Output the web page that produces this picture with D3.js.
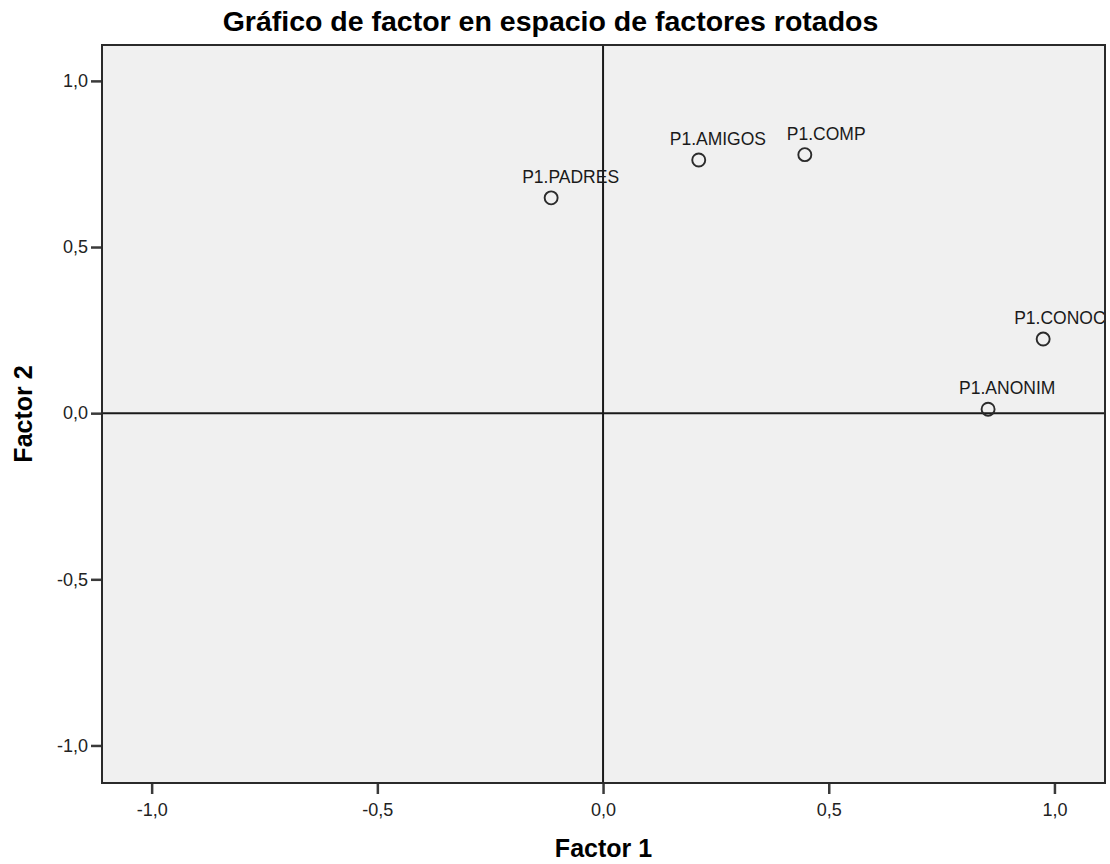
<!DOCTYPE html>
<html>
<head>
<meta charset="utf-8">
<script src="https://cdn.jsdelivr.net/npm/d3@7/dist/d3.min.js"></script>
<style>
  html, body { margin: 0; padding: 0; background: #ffffff; }
  svg { display: block; font-family: "Liberation Sans", Arial, sans-serif; }
</style>
</head>
<body>
<svg id="chart" width="1110" height="864"></svg>
<script>
// ---- data ----
const variables = ["P1.PADRES", "P1.AMIGOS", "P1.COMP", "P1.CONOC", "P1.ANONIM"];
const factor1 = [-0.115, 0.212, 0.447, 0.975, 0.853];
const factor2 = [0.648, 0.762, 0.778, 0.223, 0.012];
const xTicks = [-1.0, -0.5, 0.0, 0.5, 1.0];
const yTicks = [-1.0, -0.5, 0.0, 0.5, 1.0];
const chartTitle = "Gráfico de factor en espacio de factores rotados";
const xTitle = "Factor 1";
const yTitle = "Factor 2";

// ---- layout ----
const W = 1110, H = 864;
const plot = { left: 102, right: 1105, top: 45, bottom: 783 };
const svg = d3.select("#chart");

const x = d3.scaleLinear().domain([-1.11, 1.112]).range([plot.left, plot.right]);
const y = d3.scaleLinear().domain([-1.113, 1.108]).range([plot.bottom, plot.top]);

const fmt = v => d3.format(".1f")(v).replace(".", ",").replace("−", "-");

svg.append("defs").append("clipPath").attr("id", "plotClip")
  .append("rect")
  .attr("x", plot.left).attr("y", plot.top)
  .attr("width", plot.right - plot.left).attr("height", plot.bottom - plot.top);

// background
svg.append("rect")
  .attr("x", plot.left).attr("y", plot.top)
  .attr("width", plot.right - plot.left).attr("height", plot.bottom - plot.top)
  .attr("fill", "#f0f0f0");

// reference lines
svg.append("line")
  .attr("x1", x(0)).attr("x2", x(0)).attr("y1", plot.top).attr("y2", plot.bottom)
  .attr("stroke", "#1a1a1a").attr("stroke-width", 2);
svg.append("line")
  .attr("x1", plot.left).attr("x2", plot.right).attr("y1", y(0)).attr("y2", y(0))
  .attr("stroke", "#1a1a1a").attr("stroke-width", 2);

// axes
const xAxis = d3.axisBottom(x).tickValues(xTicks).tickFormat(fmt).tickSize(11).tickSizeOuter(0);
const yAxis = d3.axisLeft(y).tickValues(yTicks).tickFormat(fmt).tickSize(11).tickSizeOuter(0);

const gx = svg.append("g").attr("transform", `translate(0,${plot.bottom})`).call(xAxis);
gx.select(".domain").remove();
gx.selectAll(".tick line").attr("stroke", "#3a3a3a").attr("stroke-width", 2.5);
gx.selectAll(".tick text")
  .attr("fill", "#222").attr("font-size", "18px").attr("y", 20).attr("dy", "0.71em")
  .attr("font-family", "Liberation Sans, Arial, sans-serif");

const gy = svg.append("g").attr("transform", `translate(${plot.left},0)`).call(yAxis);
gy.select(".domain").remove();
gy.selectAll(".tick line").attr("stroke", "#3a3a3a").attr("stroke-width", 2.5);
gy.selectAll(".tick text")
  .attr("fill", "#222").attr("font-size", "18px").attr("x", -14)
  .attr("font-family", "Liberation Sans, Arial, sans-serif");

// points
const pts = variables.map((v, i) => ({ name: v, f1: factor1[i], f2: factor2[i] }));
const inner = svg.append("g").attr("clip-path", "url(#plotClip)");
inner.append("g").selectAll("circle").data(pts).join("circle")
  .attr("cx", d => x(d.f1)).attr("cy", d => y(d.f2)).attr("r", 6.5)
  .attr("fill", "none").attr("stroke", "#2b2b2b").attr("stroke-width", 1.9);

// labels (collision nudge for COMP like the original)
const labelDx = { "P1.COMP": -18 };
inner.append("g").selectAll("text").data(pts).join("text")
  .attr("x", d => x(d.f1) + (labelDx[d.name] !== undefined ? labelDx[d.name] : -29))
  .attr("y", d => y(d.f2) - 15)
  .attr("font-size", "17.5px").attr("fill", "#1a1a1a")
  .text(d => d.name);

// frame
svg.append("rect")
  .attr("x", plot.left).attr("y", plot.top)
  .attr("width", plot.right - plot.left).attr("height", plot.bottom - plot.top)
  .attr("fill", "none").attr("stroke", "#2a2a2a").attr("stroke-width", 2);

// titles
svg.append("text")
  .attr("x", 550.5).attr("y", 31).attr("text-anchor", "middle")
  .attr("font-size", "28.5px").attr("font-weight", "bold").attr("fill", "#000")
  .text(chartTitle);

svg.append("text")
  .attr("x", (plot.left + plot.right) / 2).attr("y", 857).attr("text-anchor", "middle")
  .attr("font-size", "25px").attr("font-weight", "bold").attr("fill", "#000")
  .text(xTitle);

svg.append("text")
  .attr("transform", `translate(32,${(plot.top + plot.bottom) / 2}) rotate(-90)`)
  .attr("text-anchor", "middle")
  .attr("font-size", "25px").attr("font-weight", "bold").attr("fill", "#000")
  .text(yTitle);
</script>
</body>
</html>
